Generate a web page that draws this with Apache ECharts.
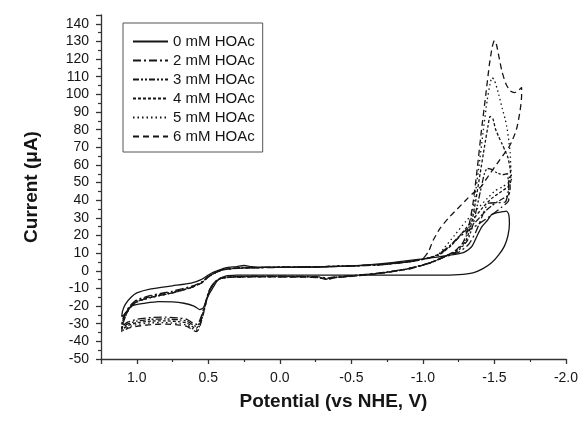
<!DOCTYPE html>
<html>
<head>
<meta charset="utf-8">
<script src="https://cdn.jsdelivr.net/npm/echarts@6/dist/echarts.min.js"></script>
<style>
html,body{margin:0;padding:0;background:#fff;}
#chart{width:581px;height:421px;}
</style>
</head>
<body>
<div id="chart"></div>
<script>
// Series names (legend)
const seriesNames = ['0 mM HOAc', '2 mM HOAc', '3 mM HOAc', '4 mM HOAc', '5 mM HOAc', '6 mM HOAc'];

// Axis settings (values)
const xMin = -2.0, xMax = 1.25, xStep = 0.5;
const yMin = -50, yMax = 145, yStep = 10;

// Each curve: closed CV loop, [potential V, current uA]
const hoac0 = [[0.0,-2.4],[-0.3,-2.4],[-0.6,-2.4],[-0.9,-2.5],[-1.1,-2.5],[-1.25,-2.2],[-1.35,-1.2],[-1.42,1.2],[-1.48,4.5],[-1.53,9],[-1.57,14],[-1.595,20],[-1.605,27],[-1.6,32],[-1.585,33.8],[-1.56,33.5],[-1.52,33],[-1.483,32],[-1.45,28.5],[-1.413,25],[-1.38,20],[-1.344,14],[-1.3,11],[-1.27,10],[-1.2,9],[-1.1,7.8],[-1.0,6.8],[-0.8,4.8],[-0.5,2.8],[-0.2,2],[0.1,2],[0.2,2.3],[0.25,3],[0.3,2.4],[0.38,1.6],[0.43,0.2],[0.47,-1],[0.5,-2.4],[0.55,-5],[0.62,-7],[0.75,-8.5],[0.9,-10.2],[1.0,-12.5],[1.04,-15],[1.08,-19],[1.1,-23],[1.105,-26],[1.09,-25],[1.05,-21],[1.02,-19.5],[0.95,-18.5],[0.85,-17.5],[0.75,-17.6],[0.67,-18.4],[0.6,-20],[0.56,-22],[0.535,-21],[0.51,-16],[0.486,-12],[0.46,-8.5],[0.44,-6],[0.41,-4],[0.38,-3],[0.3,-2.5],[0.15,-2.4],[0.0,-2.4]];

const hoac2 = [[0.0,-3.1],[-0.2,-3.2],[-0.28,-3.5],[-0.33,-4.2],[-0.38,-3.5],[-0.5,-2.8],[-0.7,-1.2],[-0.9,1.3],[-1.05,4.6],[-1.15,7.8],[-1.25,10.5],[-1.32,15],[-1.37,22],[-1.41,30],[-1.44,36],[-1.46,38.3],[-1.52,38.6],[-1.576,39],[-1.595,44],[-1.6,50],[-1.595,53],[-1.6,47],[-1.6,40],[-1.55,36],[-1.47,31],[-1.38,26],[-1.3,22],[-1.24,18],[-1.17,13],[-1.1,9],[-1.03,7],[-0.9,5],[-0.7,3.4],[-0.5,2.7],[-0.2,2.1],[0.1,1.8],[0.3,1.4],[0.4,0.5],[0.46,-1.4],[0.5,-3.2],[0.55,-6.5],[0.62,-8.8],[0.75,-11.5],[0.9,-14],[1.0,-16.5],[1.05,-20],[1.08,-24],[1.1,-28],[1.105,-31],[1.09,-30.5],[1.06,-29],[1.0,-27.5],[0.9,-26.5],[0.8,-26.3],[0.7,-26.8],[0.65,-27.5],[0.62,-29],[0.6,-30],[0.585,-30.3],[0.565,-29],[0.55,-26],[0.53,-21],[0.51,-15],[0.49,-10.5],[0.46,-6.8],[0.42,-4.3],[0.35,-3.4],[0.2,-3.1],[0.0,-3.1]];

const hoac3 = [[0.0,-3.2],[-0.2,-3.3],[-0.28,-3.7],[-0.33,-4.5],[-0.38,-3.7],[-0.5,-2.9],[-0.7,-1.3],[-0.9,1.2],[-1.05,4.5],[-1.15,8],[-1.24,11],[-1.31,17],[-1.35,26],[-1.38,37],[-1.41,48],[-1.43,55],[-1.45,58],[-1.48,57.5],[-1.52,55.5],[-1.56,54.5],[-1.59,55],[-1.605,53],[-1.61,47],[-1.6,43],[-1.56,41],[-1.5,38],[-1.44,34],[-1.36,27],[-1.27,21],[-1.2,15],[-1.12,9.5],[-1.04,7.2],[-0.9,5.1],[-0.7,3.5],[-0.5,2.8],[-0.2,2.2],[0.1,1.9],[0.3,1.5],[0.4,0.6],[0.46,-1.5],[0.5,-3.4],[0.55,-6.8],[0.62,-9.2],[0.75,-12],[0.9,-14.5],[1.0,-17],[1.05,-20.5],[1.08,-25],[1.1,-29],[1.105,-32],[1.09,-31.5],[1.06,-30],[1.0,-28.5],[0.9,-27.5],[0.8,-27.3],[0.7,-27.8],[0.65,-28.5],[0.62,-30],[0.6,-31],[0.585,-31.4],[0.565,-30],[0.55,-27],[0.53,-22],[0.51,-15.5],[0.49,-10.8],[0.46,-7],[0.42,-4.4],[0.35,-3.5],[0.2,-3.2],[0.0,-3.2]];

const hoac4 = [[0.0,-3.4],[-0.2,-3.5],[-0.28,-3.9],[-0.33,-4.8],[-0.38,-3.9],[-0.5,-3.1],[-0.7,-1.4],[-0.9,1.1],[-1.05,4.4],[-1.15,8],[-1.23,11],[-1.3,17],[-1.34,27],[-1.37,40],[-1.4,55],[-1.43,70],[-1.455,82],[-1.47,87.5],[-1.49,86],[-1.507,80.5],[-1.53,76],[-1.553,72],[-1.575,68],[-1.595,64],[-1.61,58],[-1.615,51],[-1.6,48],[-1.55,45],[-1.48,41],[-1.42,36],[-1.35,29],[-1.27,21],[-1.2,14.5],[-1.12,9.3],[-1.05,7.3],[-0.9,5.1],[-0.7,3.5],[-0.5,2.8],[-0.2,2.2],[0.1,1.9],[0.3,1.5],[0.4,0.6],[0.46,-1.5],[0.5,-3.5],[0.55,-7],[0.62,-9.5],[0.75,-12.5],[0.9,-15],[1.0,-17.5],[1.05,-21],[1.08,-25.5],[1.1,-30],[1.105,-33],[1.09,-32.5],[1.06,-31],[1.0,-29.5],[0.9,-28.5],[0.8,-28.4],[0.7,-28.9],[0.65,-29.6],[0.62,-31],[0.6,-32.2],[0.585,-32.6],[0.565,-31],[0.55,-28],[0.53,-22.5],[0.51,-15.8],[0.49,-11],[0.46,-7],[0.42,-4.5],[0.35,-3.6],[0.2,-3.4],[0.0,-3.4]];

const hoac5 = [[0.0,-3.3],[-0.2,-3.4],[-0.28,-3.8],[-0.33,-4.6],[-0.38,-3.8],[-0.5,-3],[-0.7,-1.3],[-0.9,1.2],[-1.05,4.5],[-1.15,8],[-1.23,11.5],[-1.29,17],[-1.33,27],[-1.36,40],[-1.39,58],[-1.42,78],[-1.45,97],[-1.47,106],[-1.483,109.5],[-1.5,108],[-1.53,100],[-1.555,92],[-1.575,86],[-1.59,80],[-1.6,74],[-1.61,67],[-1.615,58],[-1.62,52],[-1.6,50],[-1.555,47.5],[-1.507,45.5],[-1.45,41],[-1.38,35],[-1.3,28],[-1.22,20],[-1.15,13],[-1.11,9.5],[-1.05,7.5],[-0.9,5.1],[-0.7,3.4],[-0.5,2.8],[-0.2,2.2],[0.1,1.9],[0.3,1.5],[0.4,0.6],[0.46,-1.5],[0.5,-3.5],[0.55,-7],[0.62,-9.5],[0.75,-12.5],[0.9,-15.2],[1.0,-17.8],[1.05,-21.5],[1.08,-26],[1.1,-31],[1.105,-34],[1.09,-33.5],[1.06,-32],[1.0,-30.5],[0.9,-29.5],[0.8,-29.4],[0.7,-30],[0.65,-30.7],[0.62,-32.2],[0.6,-33.3],[0.585,-33.7],[0.565,-32],[0.55,-28.5],[0.53,-23],[0.51,-16],[0.49,-11],[0.46,-7],[0.42,-4.5],[0.35,-3.6],[0.2,-3.3],[0.0,-3.3]];

const hoac6 = [[0.0,-3.5],[-0.2,-3.6],[-0.28,-4],[-0.33,-5],[-0.38,-4],[-0.5,-3.2],[-0.7,-1.5],[-0.9,1],[-1.05,4.5],[-1.15,8],[-1.22,11],[-1.28,16],[-1.32,25],[-1.35,38],[-1.38,58],[-1.41,80],[-1.44,100],[-1.465,117],[-1.485,127],[-1.5,130.5],[-1.515,128],[-1.53,122],[-1.553,113],[-1.58,106],[-1.61,102],[-1.64,101],[-1.665,102],[-1.69,104],[-1.69,99],[-1.68,91],[-1.66,82],[-1.645,78],[-1.62,73],[-1.6,70],[-1.53,62],[-1.46,54],[-1.41,48],[-1.35,44],[-1.3,40],[-1.24,35],[-1.18,30],[-1.12,24],[-1.07,17],[-1.04,11],[-1.0,7],[-0.9,5.2],[-0.7,3.5],[-0.5,2.8],[-0.2,2.2],[0.1,1.9],[0.3,1.5],[0.4,0.6],[0.46,-1.5],[0.5,-3.5],[0.55,-7],[0.62,-9.5],[0.75,-12.5],[0.9,-15],[1.0,-17.5],[1.05,-21],[1.08,-26],[1.1,-31],[1.105,-34.5],[1.09,-34],[1.06,-32.5],[1.0,-31.5],[0.9,-30.5],[0.8,-30.2],[0.7,-30.8],[0.65,-31.5],[0.62,-33],[0.6,-34],[0.585,-34.5],[0.565,-33],[0.55,-29],[0.53,-23],[0.51,-16],[0.49,-11],[0.46,-7],[0.42,-4.5],[0.35,-3.7],[0.2,-3.5],[0.0,-3.5]];

const curves = [hoac0, hoac2, hoac3, hoac4, hoac5, hoac6];
const dashes = ['solid', [8,3,2,3], [6,2,2,2,2,2], [3,2], [1.5,3], [6,4]];

const chart = echarts.init(document.getElementById('chart'), null, {renderer:'canvas'});
const FONT = 'Liberation Sans, Arial, sans-serif';
const INK = '#151515';

chart.setOption({
  animation: false,
  backgroundColor: '#ffffff',
  grid: {left: 101, right: 13, top: 15, bottom: 62},
  legend: {
    orient: 'vertical', left: 123, top: 23,
    padding: [11, 8, 8, 9],
    itemWidth: 35, itemHeight: 14, itemGap: 4,
    borderColor: '#555', borderWidth: 1,
    itemStyle: {opacity: 0},
    textStyle: {fontFamily: FONT, fontSize: 15, color: INK},
    data: seriesNames
  },
  xAxis: {
    type: 'value', inverse: true, min: xMin, max: xMax, interval: xStep,
    name: 'Potential (vs NHE, V)', nameLocation: 'middle', nameGap: 33,
    nameTextStyle: {fontFamily: FONT, fontSize: 19, fontWeight: 'bold', color: INK},
    axisLine: {onZero: false, lineStyle: {color: '#333', width: 1.3}},
    axisTick: {length: 5, lineStyle: {color: '#333', width: 1.3}},
    minorTick: {show: true, splitNumber: 2, length: 3, lineStyle: {color: '#333', width: 1.2}},
    splitLine: {show: false},
    axisLabel: {margin: 12, fontFamily: FONT, fontSize: 14, color: INK,
      formatter: v => (Math.abs(v / xStep - Math.round(v / xStep)) < 1e-6) ? v.toFixed(1) : ''}
  },
  yAxis: {
    type: 'value', min: yMin, max: yMax, interval: yStep,
    name: 'Current (\u03bcA)', nameLocation: 'middle', nameGap: 60, nameRotate: 90,
    nameTextStyle: {fontFamily: FONT, fontSize: 19, fontWeight: 'bold', color: INK},
    axisLine: {onZero: false, lineStyle: {color: '#333', width: 1.3}},
    axisTick: {length: 5, lineStyle: {color: '#333', width: 1.3}},
    minorTick: {show: true, splitNumber: 2, length: 3, lineStyle: {color: '#333', width: 1.2}},
    splitLine: {show: false},
    axisLabel: {margin: 12, fontFamily: FONT, fontSize: 14, color: INK,
      formatter: v => (v % yStep === 0) ? String(v) : ''}
  },
  series: curves.map((d, i) => ({
    name: seriesNames[i], type: 'line', data: d,
    symbol: 'none', showSymbol: false, smooth: 0.2,
    lineStyle: {color: INK, width: 1.3, type: dashes[i]},
    itemStyle: {color: INK},
    z: 10 - i
  }))
});
</script>
</body>
</html>
